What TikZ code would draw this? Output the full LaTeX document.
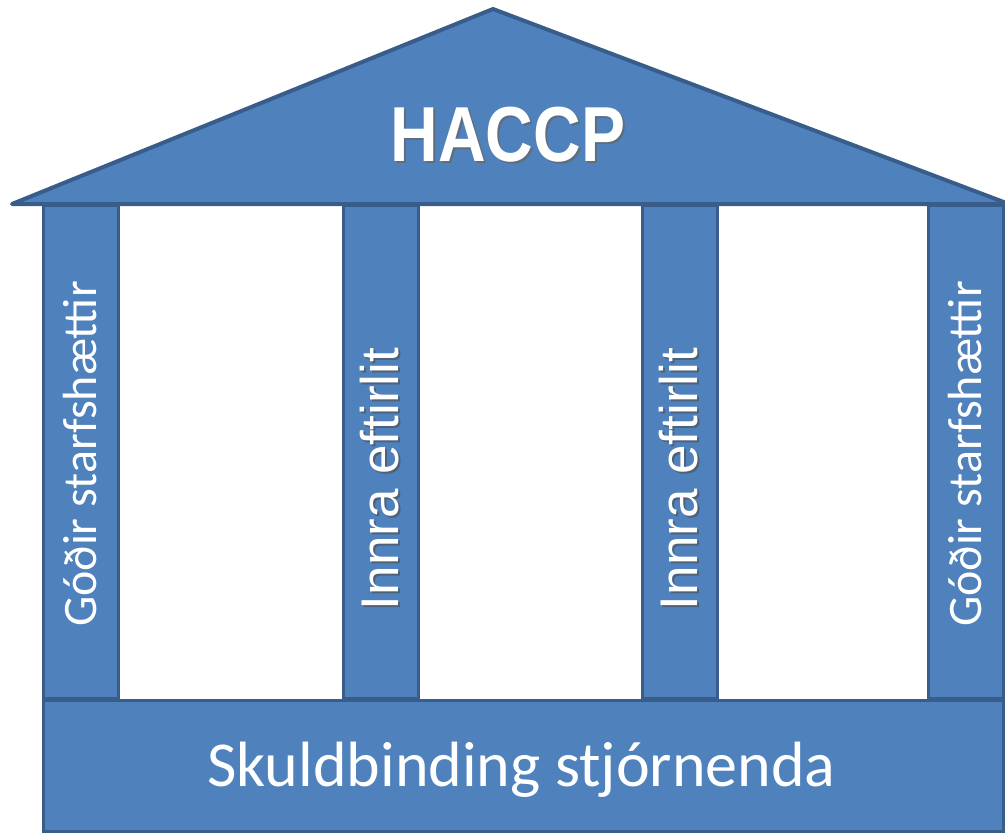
\documentclass[tikz,border=0pt]{standalone}
\usepackage{fontspec}
\setmainfont{Carlito}
\newfontfamily\arialf[Ligatures=NoCommon]{Liberation Sans}
\definecolor{fillblue}{HTML}{4F81BD}
\definecolor{edgeblue}{HTML}{385D8A}
\tikzset{
  pillar/.style={draw=edgeblue, fill=fillblue, line width=3pt, minimum width=75pt, minimum height=493pt, inner sep=0pt, outer sep=0pt},
  basebox/.style={draw=edgeblue, fill=fillblue, line width=3pt, minimum width=960pt, minimum height=131pt, inner sep=0pt},
  pillartext/.style={text=white, rotate=90, inner sep=0pt},
  shadowtext/.style={text=black!70, opacity=0.6, rotate=90, inner sep=0pt},
}
\begin{document}
\begin{tikzpicture}[x=1pt,y=-1pt]
\useasboundingbox (0,0) rectangle (1005,833);
% columns
\node[pillar] (c1) at (80.5,451.5) {};
\node[pillar] (c2) at (380.5,451.5) {};
\node[pillar] (c3) at (679.5,451.5) {};
\node[pillar] (c4) at (965.5,451.5) {};
% base
\node[basebox] (base) at (523,765.5) {};
% roof
\coordinate (rl) at (12,204);
\coordinate (ra) at (493,9);
\coordinate (rr) at (1009,204);
\draw[draw=edgeblue, fill=fillblue, line width=4pt, line join=round] (rl) -- (ra) -- (rr) -- cycle;
% texts
\node[text=black!60, opacity=0.7, inner sep=0pt, xscale=0.88, yscale=1.04] (haccps) at (510,137) {\arialf\bfseries\fontsize{75}{80}\selectfont HACCP};
\node[text=white, inner sep=0pt, xscale=0.88, yscale=1.04] (haccp) at (508,135) {\arialf\bfseries\fontsize{75}{80}\selectfont HACCP};
\node[pillartext] (t1) at (80.5,454) {\fontsize{48}{50}\selectfont Góðir starfshættir};
\node[pillartext] (t4) at (965.5,454) {\fontsize{48}{50}\selectfont Góðir starfshættir};
\node[shadowtext] (t2s) at (382,481) {\arialf\fontsize{53}{56}\selectfont Innra eftirlit};
\node[pillartext] (t2) at (380,479) {\arialf\fontsize{53}{56}\selectfont Innra eftirlit};
\node[shadowtext] (t3s) at (681,481) {\arialf\fontsize{53}{56}\selectfont Innra eftirlit};
\node[pillartext] (t3) at (679,479) {\arialf\fontsize{53}{56}\selectfont Innra eftirlit};
\node[text=white, inner sep=0pt] (bt) at (521.5,770) {\fontsize{64}{66}\selectfont Skuldbinding stjórnenda};
\end{tikzpicture}
\end{document}
